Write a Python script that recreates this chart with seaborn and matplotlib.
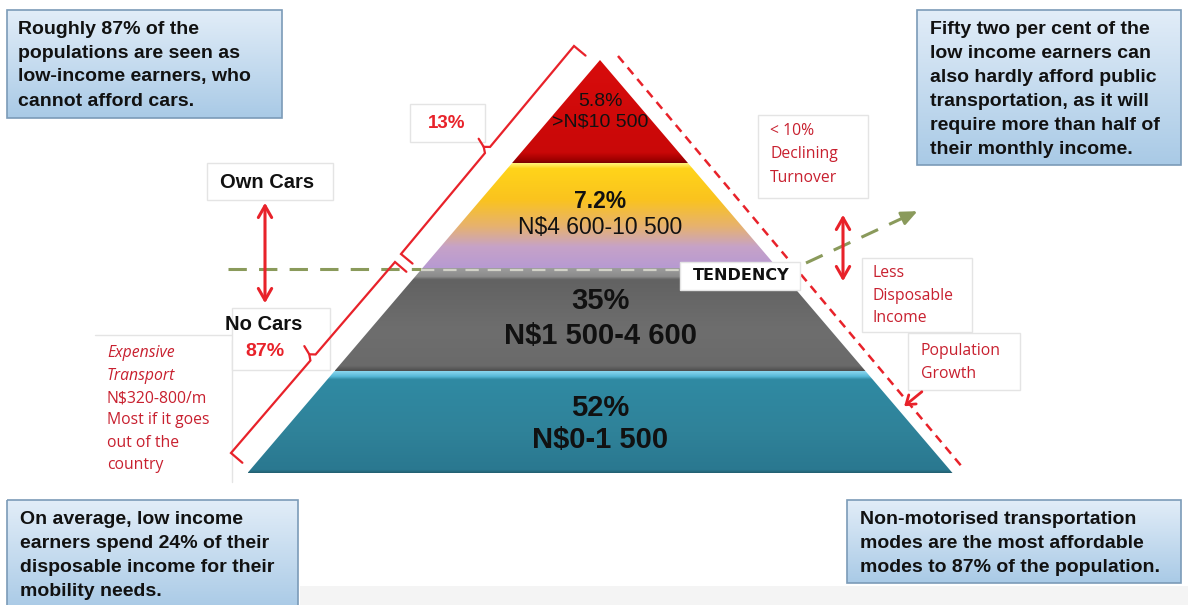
import numpy as np
import matplotlib
matplotlib.use("Agg")
import matplotlib.pyplot as plt
from matplotlib.patches import Polygon, Rectangle
from matplotlib.colors import to_rgb
import seaborn as sns

# ---------------- data ----------------
band_shares = [5.8, 7.2, 35, 52]
band_incomes = [">N$10 500", "N$4 600-10 500", "N$1 500-4 600", "N$0-1 500"]
bracket_labels = ["13%", "87%"]
car_labels = ["Own Cars", "No Cars"]
tendency_label = "TENDENCY"
note_turnover = ["< 10%", "Declining", "Turnover"]
note_income = ["Less", "Disposable", "Income"]
note_growth = ["Population", "Growth"]
note_expensive_italic = ["Expensive", "Transport"]
note_expensive = ["N$320-800/m", "Most if it goes", "out of the", "country"]
box_top_left = ["Roughly 87% of the", "populations are seen as",
                "low-income earners, who", "cannot afford cars."]
box_top_right = ["Fifty two per cent of the", "low income earners can",
                 "also hardly afford public", "transportation, as it will",
                 "require more than half of", "their monthly income."]
box_bottom_left = ["On average, low income", "earners spend 24% of their",
                   "disposable income for their", "mobility needs."]
box_bottom_right = ["Non-motorised transportation", "modes are the most affordable",
                    "modes to 87% of the population."]

# ---------------- style ----------------
sns.set_theme(style="white")
plt.rcParams['font.family'] = ['Liberation Sans', 'DejaVu Sans']

W, H = 1188, 605
fig = plt.figure(figsize=(W / 100, H / 100), dpi=100)
ax = fig.add_axes([0, 0, 1, 1])
ax.set_xlim(0, W)
ax.set_ylim(H, 0)
ax.axis('off')

RED = "#c8202f"
BRED = "#e8222a"
GREEN = "#8a9a5b"


def gradient(stops, n=200):
    pos = np.linspace(0, 1, n)
    ps = [s[0] for s in stops]
    cols = np.array([to_rgb(s[1]) for s in stops])
    arr = np.stack([np.interp(pos, ps, cols[:, k]) for k in range(3)], axis=-1)
    return arr[:, None, :]


def grad_poly(pts, stops, z=2, edge=None, lw=1):
    pts = np.asarray(pts, float)
    poly = Polygon(pts, closed=True, facecolor='none',
                   edgecolor=edge if edge else 'none', lw=lw, zorder=z + 0.1)
    ax.add_patch(poly)
    x0, x1 = pts[:, 0].min(), pts[:, 0].max()
    y0, y1 = pts[:, 1].min(), pts[:, 1].max()
    im = ax.imshow(gradient(stops), extent=(x0, x1, y1, y0), origin='upper',
                   aspect='auto', zorder=z, interpolation='bilinear')
    clip = Polygon(pts, closed=True, transform=ax.transData)
    im.set_clip_path(clip)
    return poly


def lines_text(x, y0, dy, lines, **kw):
    for i, s in enumerate(lines):
        ax.text(x, y0 + i * dy, s, va='center', **kw)


def faint_box(x0, y0, x1, y1, z=1, fc='white'):
    ax.add_patch(Rectangle((x0, y0), x1 - x0, y1 - y0, facecolor=fc,
                           edgecolor='#e4e4e4', lw=1, zorder=z))


# light bottom strip
ax.add_patch(Rectangle((300, 586), W - 300, 20, facecolor='#f4f4f4',
                       edgecolor='none', zorder=0))

# ---------------- pyramid ----------------
cx, apex_y, base_y, half_base = 600, 60, 473, 352.5
bounds = [60, 163, 268, 371, 473]


def hw(y):
    return half_base * (y - apex_y) / (base_y - apex_y)


band_stops = [
    [(0, '#d80c0c'), (0.9, '#c90808'), (0.97, '#a00000'), (1, '#7a0000')],
    [(0, '#fff27a'), (0.05, '#ffd41a'), (0.35, '#fac31e'), (0.6, '#e7b26e'),
     (0.8, '#c6a2c8'), (1, '#b79ad2')],
    [(0, '#9c9c9c'), (0.08, '#8c8c8c'), (0.11, '#626262'), (0.6, '#6e6e6e'),
     (0.95, '#6a6a6a'), (1, '#4e4e4e')],
    [(0, '#8ad6ee'), (0.05, '#57b9d8'), (0.08, '#308aa3'), (0.6, '#2f8299'),
     (0.97, '#2a7890'), (1, '#235f70')],
]
for i in range(4):
    t, b = bounds[i], bounds[i + 1]
    if i == 0:
        pts = [(cx, t), (cx + hw(b), b), (cx - hw(b), b)]
    else:
        pts = [(cx - hw(t), t), (cx + hw(t), t), (cx + hw(b), b), (cx - hw(b), b)]
    grad_poly(pts, band_stops[i], z=2)

# band labels
share_sizes = [14, 16.5, 21, 21]
share_weights = ['normal', 'bold', 'bold', 'bold']
inc_sizes = [14, 16.5, 21, 21]
inc_weights = ['normal', 'normal', 'bold', 'bold']
share_y = [101, 201, 301, 408]
inc_y = [122, 228, 336, 440]
for i in range(4):
    ax.text(cx, share_y[i], f"{band_shares[i]:g}%", ha='center', va='center',
            fontsize=share_sizes[i], fontweight=share_weights[i],
            color='#111111', zorder=5)
    ax.text(cx, inc_y[i], band_incomes[i], ha='center', va='center',
            fontsize=inc_sizes[i], fontweight=inc_weights[i],
            color='#111111', zorder=5)

# horizontal tendency dashed line
ax.plot([228, 421], [269, 269], color=GREEN, lw=2.2, dashes=(6, 4), zorder=4)
ax.plot([421, 690], [270, 270], color='#d2d2c8', lw=1.6, dashes=(6, 4), zorder=4)

# TENDENCY box
faint_box(680, 262, 800, 290, z=6)
ax.text(741, 276, tendency_label, ha='center', va='center', fontsize=11.5,
        fontweight='bold', family='DejaVu Sans', color='#111111', zorder=7)

# green dashed arrow to the right
ax.plot([806, 905], [263, 217], color=GREEN, lw=2.2, dashes=(6, 4), zorder=4)
ax.annotate('', xy=(920, 210), xytext=(903, 218),
            arrowprops=dict(arrowstyle='-|>,head_width=0.35,head_length=0.8',
                            color=GREEN, lw=2), zorder=4)

# red dashed line parallel to right edge
ax.plot([618, 963], [56, 468], color=BRED, lw=1.8, dashes=(3.5, 2.5), zorder=4)
ax.annotate('', xy=(902, 408), xytext=(924, 390),
            arrowprops=dict(arrowstyle='->,head_width=0.35,head_length=0.5',
                            color=BRED, lw=2), zorder=4)


# ---------------- braces on left edge ----------------
def brace(p0, p1, cap=15, nub=14):
    p0, p1 = np.array(p0, float), np.array(p1, float)
    d = (p1 - p0) / np.linalg.norm(p1 - p0)
    inward = np.array([d[1], -d[0]])
    if inward[0] < 0:
        inward = -inward
    m = (p0 + p1) / 2
    pts = [p0 + inward * cap, p0, m - d * 4, m - inward * nub * 0.35, m + d * 4, p1,
           p1 + inward * cap]
    pts = np.array(pts)
    ax.plot(pts[:, 0], pts[:, 1], color=BRED, lw=1.6, zorder=4,
            solid_joinstyle='miter')
    ax.plot([m[0] - inward[0] * nub * 0.35, m[0] - inward[0] * nub - d[0] * 3],
            [m[1] - inward[1] * nub * 0.35, m[1] - inward[1] * nub - d[1] * 3],
            color=BRED, lw=1.6, zorder=4)


brace((574, 46), (401, 254))
brace((395, 262), (231, 453))

faint_box(410, 104, 485, 142)
ax.text(447, 124, bracket_labels[0], ha='center', va='center', fontsize=13.5,
        fontweight='bold', color=BRED, zorder=5)

# ---------------- cars labels ----------------
faint_box(207, 163, 333, 200)
ax.text(267, 183, car_labels[0], ha='center', va='center', fontsize=14.5,
        fontweight='bold', color='#111111', zorder=5)
ax.plot([95, 232], [335, 335], color='#e4e4e4', lw=1, zorder=1)
ax.plot([232, 232], [340, 482], color='#e4e4e4', lw=1, zorder=1)
faint_box(232, 308, 330, 370)
ax.text(264, 325, car_labels[1], ha='center', va='center', fontsize=14.5,
        fontweight='bold', color='#111111', zorder=5)
ax.text(265, 351, bracket_labels[1], ha='center', va='center', fontsize=14,
        fontweight='bold', color=BRED, zorder=5)
ax.annotate('', xy=(265, 200), xytext=(265, 306),
            arrowprops=dict(arrowstyle='<->,head_width=0.4,head_length=0.7',
                            color=BRED, lw=2.2), zorder=5)

# right double arrow
ax.annotate('', xy=(843, 212), xytext=(843, 284),
            arrowprops=dict(arrowstyle='<->,head_width=0.4,head_length=0.7',
                            color=BRED, lw=2.2), zorder=5)

# ---------------- red notes ----------------
note_font = ['Open Sans', 'DejaVu Sans']
nfs = 11.3
faint_box(758, 115, 868, 198)
lines_text(770, 131, 23.5, note_turnover, fontsize=nfs, family=note_font,
           color=RED, zorder=5)
faint_box(862, 258, 972, 332)
lines_text(873, 273, 22.5, note_income, fontsize=nfs, family=note_font,
           color=RED, zorder=5)
faint_box(908, 333, 1020, 390)
lines_text(921, 351, 22.5, note_growth, fontsize=nfs, family=note_font,
           color=RED, zorder=5)
lines_text(107, 353, 22.5, note_expensive_italic, fontsize=nfs, family=note_font,
           style='italic', color=RED, zorder=5)
lines_text(107, 398, 22.3, note_expensive, fontsize=nfs, family=note_font,
           color=RED, zorder=5)


# ---------------- blue info boxes ----------------
def info_box(x0, y0, x1, y1, lines, tx, ty):
    grad_poly([(x0, y0), (x1, y0), (x1, y1), (x0, y1)],
              [(0, '#e2edf8'), (1, '#a9cae6')], z=3, edge='#7b9bb8', lw=1.2)
    lines_text(tx, ty, 24, lines, fontsize=14, fontweight='bold',
               color='#111111', zorder=5)


info_box(7, 10, 282, 118, box_top_left, 18, 29)
info_box(917, 10, 1181, 165, box_top_right, 930, 30)
info_box(7, 500, 298, 610, box_bottom_left, 20, 520)
info_box(847, 500, 1181, 583, box_bottom_right, 860, 520)

ax.set_xlim(0, W)
ax.set_ylim(H, 0)
fig.savefig("out.png", dpi=100)
